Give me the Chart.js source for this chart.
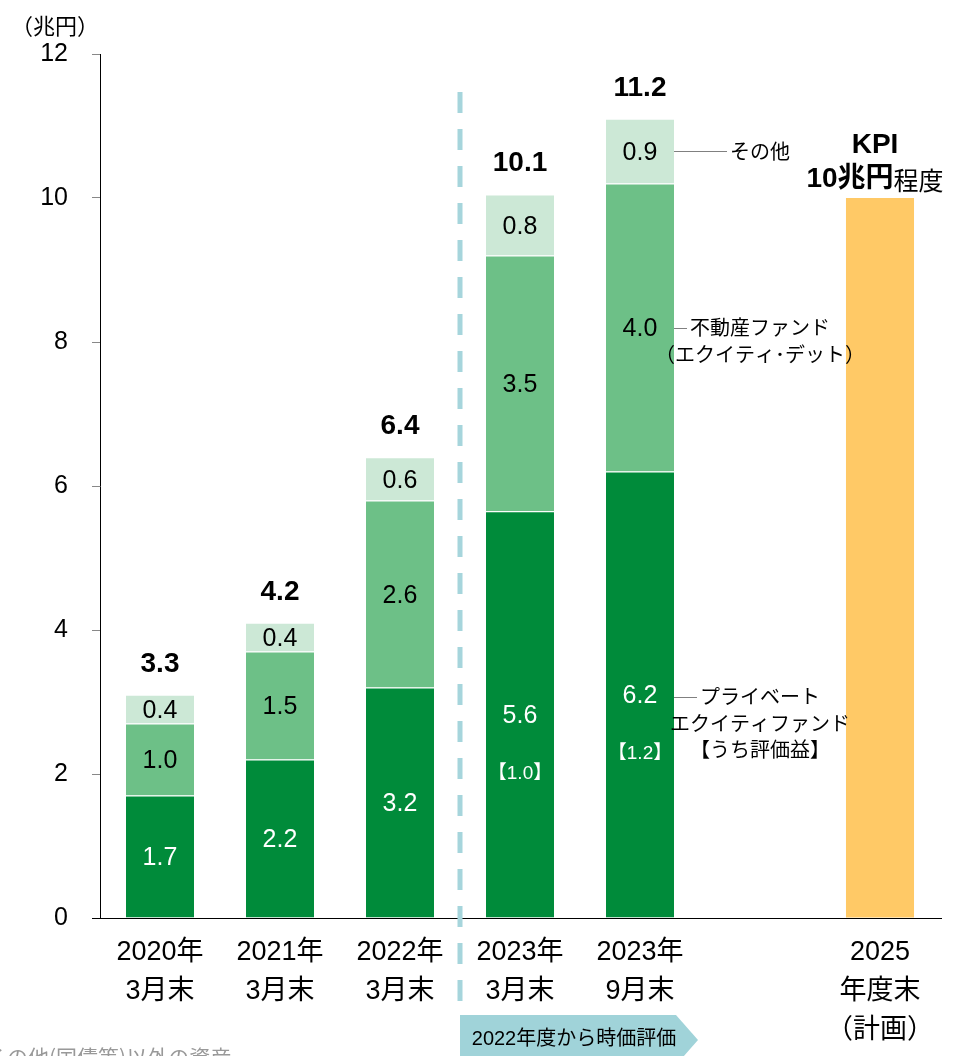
<!DOCTYPE html>
<html>
<head>
<meta charset="utf-8">
<script src="https://cdn.jsdelivr.net/npm/chart.js@4.4.1/dist/chart.umd.min.js"></script>
<style>
  html, body { margin: 0; padding: 0; background: #fff; }
  #wrap { width: 957px; height: 1056px; position: relative; }
</style>
</head>
<body>
<div id="wrap"><canvas id="canvas"></canvas></div>
<script>
"use strict";

// 区分
const categories = [
  ['2020年', '3月末'],
  ['2021年', '3月末'],
  ['2022年', '3月末'],
  ['2023年', '3月末'],
  ['2023年', '9月末'],
  '',
  ['2025', '年度末', '（計画）']
];

// 各残高（兆円）、棒の高さは図から読み取り
const privateEquity = [1.7, 2.2, 3.2, 5.65, 6.2, null, null];
const realEstate = [1.0, 1.5, 2.6, 3.55, 4.0, null, null];
const others = [0.4, 0.4, 0.6, 0.85, 0.9, null, null];
const kpiTarget = [null, null, null, null, null, null, 10];

// 表示用ラベル
const peText = ['1.7', '2.2', '3.2', '5.6', '6.2', '', ''];
const reText = ['1.0', '1.5', '2.6', '3.5', '4.0', '', ''];
const otherText = ['0.4', '0.4', '0.6', '0.8', '0.9', '', ''];
const gainText = ['', '', '', '【1.0】', '【1.2】', '', ''];
const totalText = ['3.3', '4.2', '6.4', '10.1', '11.2', '', ''];

const yTicks = [0, 2, 4, 6, 8, 10, 12];

const FONT = '"Liberation Sans", Arial, "Noto Sans CJK JP", sans-serif';
const JP = '"Noto Sans CJK JP", sans-serif';

const DARK = '#008B3A';
const MID = '#6DC087';
const LIGHT = '#CCE8D6';
const KPI = '#FFC966';

// 注記・矢印など
const overlay = {
  id: 'overlay',
  afterDraw(chart) {
    const c = chart.ctx;
    const area = chart.chartArea;
    const xs = chart.scales.x;

    // x軸
    c.save();
    c.strokeStyle = '#000';
    c.lineWidth = 1;
    c.beginPath();
    c.moveTo(area.left - 8, Math.round(area.bottom) + 0.5);
    c.lineTo(area.right + 2, Math.round(area.bottom) + 0.5);
    c.stroke();

    // 点線（時価評価の境目）
    const dashX = xs.getPixelForValue(2.5);
    c.strokeStyle = '#A6D5DC';
    c.lineWidth = 5;
    c.setLineDash([21, 16]);
    c.beginPath();
    c.moveTo(dashX, 92);
    c.lineTo(dashX, 1010);
    c.stroke();
    c.setLineDash([]);

    // 矢印
    c.fillStyle = '#A0D3D9';
    c.beginPath();
    c.moveTo(dashX, 1015);
    c.lineTo(dashX + 216, 1015);
    c.lineTo(dashX + 238, 1040);
    c.lineTo(dashX + 216, 1065);
    c.lineTo(dashX, 1065);
    c.closePath();
    c.fill();
    c.fillStyle = '#000';
    c.font = '20px ' + FONT;
    c.textAlign = 'center';
    c.textBaseline = 'middle';
    c.fillText('2022年度から時価評価', dashX + 114, 1039);

    // 単位
    c.font = '22px ' + JP;
    c.fillText('（兆円）', 55, 26);

    // 下の注記（切れている）
    c.fillStyle = '#999';
    c.textAlign = 'left';
    c.textBaseline = 'top';
    c.font = '21px ' + JP;
    c.fillText('その他(国債等)以外の資産', -14, 1047);

    const pe = chart.getDatasetMeta(0).data;
    const re = chart.getDatasetMeta(1).data;
    const ot = chart.getDatasetMeta(2).data;

    c.textAlign = 'center';
    c.textBaseline = 'middle';
    for (let i = 0; i < categories.length; i++) {
      if (privateEquity[i] == null) continue;
      const a = pe[i], b = re[i], d = ot[i];
      c.font = '25px ' + FONT;
      c.fillStyle = '#fff';
      c.fillText(peText[i], a.x, (a.y + a.base) / 2 + 2);
      c.fillStyle = '#000';
      c.fillText(reText[i], b.x, (b.y + b.base) / 2 + 2);
      c.fillText(otherText[i], d.x, (d.y + d.base) / 2 + 2);
      if (gainText[i]) {
        c.fillStyle = '#fff';
        c.font = '19px ' + FONT;
        c.fillText(gainText[i], a.x, (a.y + a.base) / 2 + 59);
      }
      c.fillStyle = '#000';
      c.font = 'bold 28px ' + FONT;
      c.fillText(totalText[i], d.x, d.y - 31);
    }

    // 右側の凡例注記
    const k = 4;
    const barRight = pe[k].x + pe[k].width / 2;
    const cx = barRight + 86;
    const notes = [
      { y: (ot[k].y + ot[k].base) / 2, lines: ['その他'] },
      { y: (re[k].y + re[k].base) / 2, lines: ['不動産ファンド', '（エクイティ･デット）'] },
      { y: (pe[k].y + pe[k].base) / 2 + 2, lines: ['プライベート', 'エクイティファンド', '【うち評価益】'] }
    ];
    c.font = '20px ' + JP;
    notes.forEach(n => {
      const w = c.measureText(n.lines[0]).width;
      c.strokeStyle = '#808080';
      c.lineWidth = 1;
      c.beginPath();
      c.moveTo(barRight, Math.round(n.y) + 0.5);
      c.lineTo(cx - w / 2 - 3, Math.round(n.y) + 0.5);
      c.stroke();
      c.fillStyle = '#000';
      n.lines.forEach((t, j) => c.fillText(t, cx, n.y + j * 26.5));
    });

    // KPI
    const kb = chart.getDatasetMeta(3).data[6];
    c.fillStyle = '#000';
    c.font = 'bold 28px ' + FONT;
    c.fillText('KPI', kb.x - 5, kb.y - 53);
    const w1 = c.measureText('10兆円').width;
    c.font = '25px ' + JP;
    const w2 = c.measureText('程度').width;
    const left = kb.x - 5 - (w1 + w2) / 2;
    c.textAlign = 'left';
    c.font = 'bold 28px ' + FONT;
    c.fillText('10兆円', left, kb.y - 19);
    c.font = '25px ' + JP;
    c.fillText('程度', left + w1, kb.y - 18);
    c.restore();
  }
};

const canvas = document.getElementById('canvas');
const ctx = canvas.getContext('2d');

const seg = { top: 1, right: 0, bottom: 0, left: 0 };

let myChart = new Chart(ctx, {
  type: 'bar',
  data: {
    labels: categories,
    datasets: [{
      label: 'プライベートエクイティファンド',
      data: privateEquity,
      backgroundColor: DARK,
      borderColor: '#fff',
      borderWidth: seg,
      borderSkipped: false
    }, {
      label: '不動産ファンド',
      data: realEstate,
      backgroundColor: MID,
      borderColor: '#fff',
      borderWidth: seg,
      borderSkipped: false
    }, {
      label: 'その他',
      data: others,
      backgroundColor: LIGHT,
      borderColor: '#fff',
      borderWidth: seg,
      borderSkipped: false
    }, {
      label: 'KPI',
      data: kpiTarget,
      backgroundColor: KPI,
      borderWidth: 0
    }]
  },
  options: {
    responsive: true,
    maintainAspectRatio: false,
    animation: false,
    layout: { padding: { top: 54, right: 17, left: 0, bottom: 0 } },
    datasets: { bar: { categoryPercentage: 1, barPercentage: 0.567 } },
    plugins: {
      legend: { display: false },
      tooltip: { enabled: false }
    },
    scales: {
      x: {
        stacked: true,
        grid: { display: false, drawTicks: false },
        border: { display: false },
        ticks: {
          color: '#000',
          font: { family: FONT, size: 27, lineHeight: 1.44 },
          padding: 15,
          maxRotation: 0,
          autoSkip: false
        },
        afterFit(scale) { scale.height = 138; }
      },
      y: {
        stacked: true,
        min: 0,
        max: 12,
        afterBuildTicks(scale) { scale.ticks = yTicks.map(v => ({ value: v })); },
        grid: { drawOnChartArea: false, tickLength: 8, color: '#888' },
        border: { color: '#000', width: 1 },
        ticks: {
          color: '#000',
          font: { family: FONT, size: 25 },
          padding: 24
        },
        afterFit(scale) { scale.width = 100; }
      }
    }
  },
  plugins: [overlay]
});
</script>
</body>
</html>
